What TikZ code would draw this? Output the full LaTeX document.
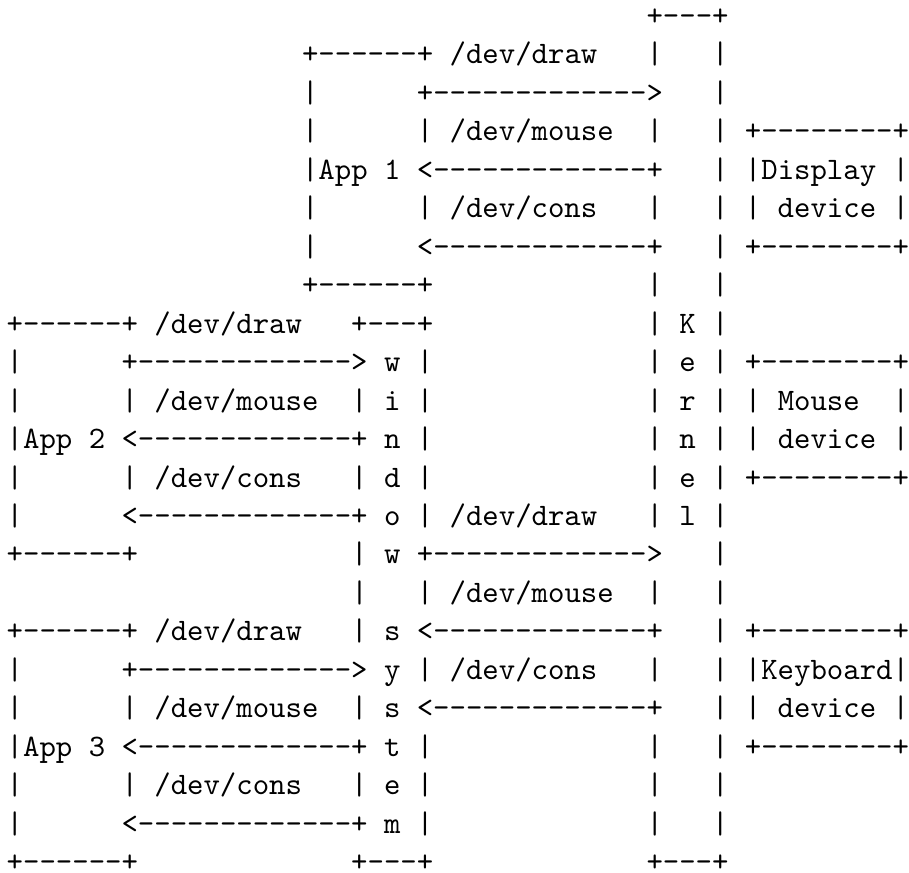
\documentclass[tikz,border=0pt]{standalone}
\usepackage{fontspec}
% Latin Modern Mono, fixed word spaces, no TeX ligatures
\newfontfamily\asciifont{lmmono10-regular.otf}[WordSpace={1,0,0}]
\newlength\asciiw
\setlength\asciiw{5.25pt}
% a run of n blank character cells
\newcommand\blanks[1]{\hspace*{#1\asciiw}}
\tikzset{
  asciirow/.style={anchor=base west, inner sep=0pt, outer sep=0pt,
    font=\asciifont\fontsize{10pt}{12pt}\selectfont, text=black},
}
% \asciiline{row}{first column}{text}
\newcommand\asciiline[3]{%
  \node[asciirow] (row#1) at ({2.16pt+#2*5.25pt},{-8.14pt-(#1-1)*12.31pt}) {#3};}
\begin{document}
\begin{tikzpicture}
  \fill[white] (0,0) rectangle (290.1pt,-279.3pt);
  \asciiline{1}{39}{+---+}
  \asciiline{2}{18}{+------+~/dev/draw\blanks{3}|\blanks{3}|}
  \asciiline{3}{18}{|\blanks{6}+------------->\blanks{3}|}
  \asciiline{4}{18}{|\blanks{6}|~/dev/mouse\blanks{2}|\blanks{3}|~+--------+}
  \asciiline{5}{18}{|App~1~<-------------+\blanks{3}|~|Display~|}
  \asciiline{6}{18}{|\blanks{6}|~/dev/cons\blanks{3}|\blanks{3}|~|~device~|}
  \asciiline{7}{18}{|\blanks{6}<-------------+\blanks{3}|~+--------+}
  \asciiline{8}{18}{+------+\blanks{13}|\blanks{3}|}
  \asciiline{9}{0}{+------+~/dev/draw\blanks{3}+---+\blanks{13}|~K~|}
  \asciiline{10}{0}{|\blanks{6}+------------->~w~|\blanks{13}|~e~|~+--------+}
  \asciiline{11}{0}{|\blanks{6}|~/dev/mouse\blanks{2}|~i~|\blanks{13}|~r~|~|~Mouse\blanks{2}|}
  \asciiline{12}{0}{|App~2~<-------------+~n~|\blanks{13}|~n~|~|~device~|}
  \asciiline{13}{0}{|\blanks{6}|~/dev/cons\blanks{3}|~d~|\blanks{13}|~e~|~+--------+}
  \asciiline{14}{0}{|\blanks{6}<-------------+~o~|~/dev/draw\blanks{3}|~l~|}
  \asciiline{15}{0}{+------+\blanks{13}|~w~+------------->\blanks{3}|}
  \asciiline{16}{21}{|\blanks{3}|~/dev/mouse\blanks{2}|\blanks{3}|}
  \asciiline{17}{0}{+------+~/dev/draw\blanks{3}|~s~<-------------+\blanks{3}|~+--------+}
  \asciiline{18}{0}{|\blanks{6}+------------->~y~|~/dev/cons\blanks{3}|\blanks{3}|~|Keyboard|}
  \asciiline{19}{0}{|\blanks{6}|~/dev/mouse\blanks{2}|~s~<-------------+\blanks{3}|~|~device~|}
  \asciiline{20}{0}{|App~3~<-------------+~t~|\blanks{13}|\blanks{3}|~+--------+}
  \asciiline{21}{0}{|\blanks{6}|~/dev/cons\blanks{3}|~e~|\blanks{13}|\blanks{3}|}
  \asciiline{22}{0}{|\blanks{6}<-------------+~m~|\blanks{13}|\blanks{3}|}
  \asciiline{23}{0}{+------+\blanks{13}+---+\blanks{13}+---+}
\end{tikzpicture}
\end{document}
